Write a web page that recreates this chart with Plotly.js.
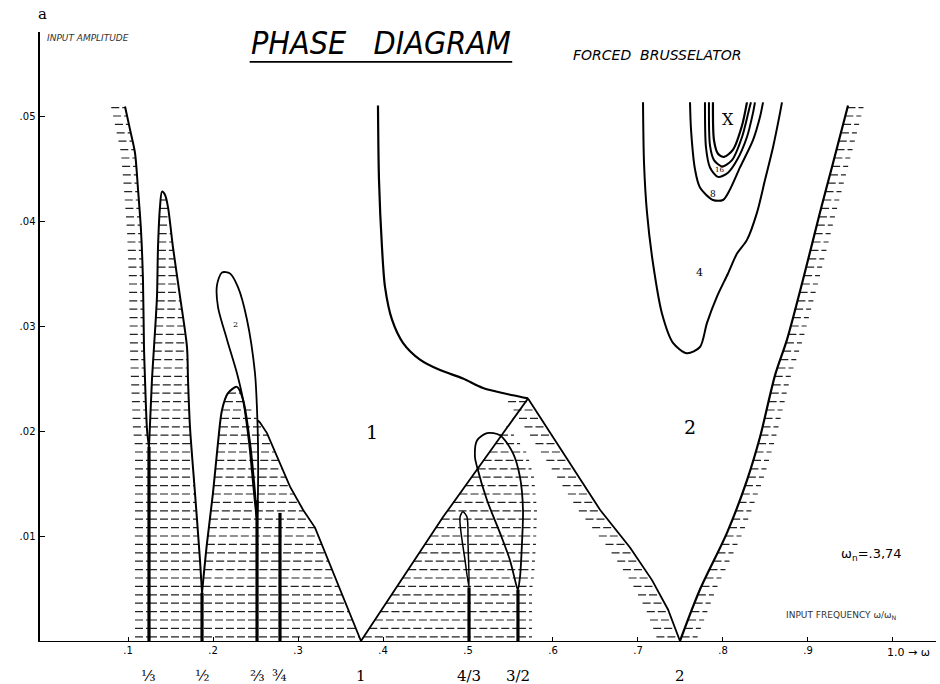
<!DOCTYPE html>
<html><head><meta charset="utf-8">
<script src="https://cdn.plot.ly/plotly-3.0.1.min.js"></script>
<style>html,body{margin:0;padding:0;background:#fff}#c{width:940px;height:684px}</style>
</head><body><div id="c"></div>
<script>
// ---- boundary curves (x = ω, y = a) ----
const A_x = [0.0965,0.1024,0.1082,0.1118,0.1153,0.1176,0.1188,0.1200,0.1224,0.1247];
const A_y = [0.0509,0.0487,0.0465,0.0430,0.0391,0.0344,0.0280,0.0249,0.0201,0.0185];
const B_x = [0.1247,0.1282,0.1306,0.1341,0.1353,0.1376,0.1400,0.1435,0.1471,0.1529,0.1612,0.1694,0.1706,0.1729,0.1788,0.1847,0.1871];
const B_y = [0.0185,0.0249,0.0280,0.0328,0.0375,0.0413,0.0428,0.0425,0.0413,0.0375,0.0328,0.0280,0.0249,0.0204,0.0141,0.0077,0.0046];
const H_x = [0.1871,0.1929,0.2000,0.2059,0.2106,0.2176,0.2282,0.2353,0.2435,0.2494,0.2518];
const H_y = [0.0046,0.0093,0.0141,0.0189,0.0220,0.0236,0.0242,0.0230,0.0189,0.0141,0.0115];
const L2_x = [0.2518,0.2482,0.2424,0.2353,0.2282,0.2165,0.2059,0.2047,0.2106,0.2200,0.2294,0.2400,0.2494,0.2518,0.2529,0.2529,0.2518];
const L2_y = [0.0115,0.0141,0.0189,0.0230,0.0255,0.0287,0.0318,0.0339,0.0351,0.0350,0.0337,0.0306,0.0255,0.0220,0.0189,0.0141,0.0115];
const D_x = [0.2529,0.2553,0.2635,0.2753,0.2906,0.3059,0.3200,0.3741];
const D_y = [0.0210,0.0208,0.0198,0.0175,0.0147,0.0125,0.0108,0];
const V1R_x = [0.3741,0.4706,0.5706];
const V1R_y = [0,0.0118,0.0231];
const E_x = [0.3941,0.3953,0.3988,0.4024,0.4106,0.4235,0.4435,0.4671,0.4941,0.5176,0.5529,0.5706];
const E_y = [0.0510,0.0439,0.0375,0.0337,0.0306,0.0284,0.0268,0.0258,0.0250,0.0241,0.0234,0.0231];
const V2L_x = [0.5706,0.6141,0.6553,0.6906,0.7165,0.7353,0.7494];
const V2L_y = [0.0231,0.0177,0.0125,0.0089,0.0058,0.0030,0];
const V2R_x = [0.7494,0.7729,0.8047,0.8282,0.8435,0.8612,0.8753,0.8941,0.9141,0.9294,0.9471];
const V2R_y = [0,0.0049,0.0103,0.0153,0.0194,0.0253,0.0287,0.0344,0.0408,0.0455,0.0510];
const L32_x = [0.5588,0.5576,0.5494,0.5376,0.5224,0.5106,0.5082,0.5106,0.5224,0.5376,0.5529,0.5612,0.5647,0.5635,0.5612,0.5588];
const L32_y = [0.0049,0.0051,0.0077,0.0103,0.0134,0.0166,0.0175,0.0191,0.0198,0.0196,0.0179,0.0156,0.0125,0.0093,0.0061,0.0049];
const T43_x = [0.5012,0.4965,0.4906,0.4941,0.4988,0.5000,0.5012];
const T43_y = [0.0051,0.0077,0.0118,0.0123,0.0118,0.0093,0.0051];
// contours inside region 2
const C4_x = [0.7059,0.7071,0.7106,0.7176,0.7282,0.7412,0.7576,0.7729,0.7812,0.7929,0.8059,0.8165,0.8282,0.8400,0.8494,0.8588,0.8671,0.8694];
const C4_y = [0.0513,0.0455,0.0408,0.0360,0.0312,0.0284,0.0274,0.0280,0.0303,0.0328,0.0350,0.0369,0.0382,0.0408,0.0439,0.0470,0.0503,0.0513];
const C8_x = [0.7612,0.7624,0.7671,0.7729,0.7882,0.8000,0.8082,0.8200,0.8353,0.8435,0.8471];
const C8_y = [0.0513,0.0487,0.0449,0.0432,0.0420,0.0420,0.0430,0.0451,0.0477,0.0499,0.0513];
const C16_x = [0.7788,0.7800,0.7847,0.7941,0.8059,0.8165,0.8282,0.8353,0.8376];
const C16_y = [0.0513,0.0470,0.0451,0.0442,0.0446,0.0458,0.0480,0.0503,0.0513];
const C32_x = [0.7835,0.7847,0.7894,0.7988,0.8106,0.8224,0.8306,0.8329];
const C32_y = [0.0513,0.0472,0.0458,0.0452,0.0458,0.0480,0.0506,0.0513];
const CX_x = [0.7882,0.7894,0.7941,0.8012,0.8118,0.8224,0.8282];
const CX_y = [0.0513,0.0477,0.0464,0.0461,0.0468,0.0491,0.0513];
// resonances
const resW = [0.1247,0.1871,0.2518,0.2788,0.3741,0.5012,0.5588,0.7494];
const resTop = [0.0185,0.0046,0.0134,0.0122,0,0.0051,0.0049,0];
const resLabels = ['⅓','½','⅔','¾','1','4/3','3/2','2'];
// ticks
const xTickVals = [0.1,0.2,0.3,0.4,0.5,0.6,0.7,0.8,0.9,1.0];
const xTickText = ['.1','.2','.3','.4','.5','.6','.7','.8','.9',''];
const yTickVals = [0.01,0.02,0.03,0.04,0.05];
const yTickText = ['.01','.02','.03','.04','.05'];
// region / contour labels
const regLabels = ['1','2'];
const regX = [0.3871,0.7612];
const regY = [0.0199,0.0204];
const cLabels = ['X','16','8','4','2'];
const cX = [0.8059,0.7953,0.7882,0.7729,0.2259];
const cY = [0.0497,0.0449,0.0426,0.0351,0.0301];

// ---- hatching built from the curves ----
const HW = 1/850; // one pixel in x data units
function band(cx, cy, side, w){
  return {x: cx.concat(cx.map(v=>v+side*w).reverse()), y: cy.concat(cy.slice().reverse())};
}
function scan(polys, step){
  const X=[],Y=[]; let ymax=0;
  polys.forEach(p=>{ymax=Math.max(ymax,...p.y);});
  for(let y=step*0.5;y<ymax;y+=step){
    polys.forEach(p=>{
      const xs=[]; const n=p.x.length;
      for(let i=0;i<n;i++){
        const j=(i+1)%n; const y1=p.y[i], y2=p.y[j];
        if((y1<=y&&y2>y)||(y2<=y&&y1>y)) xs.push(p.x[i]+(y-y1)/(y2-y1)*(p.x[j]-p.x[i]));
      }
      xs.sort((a,b)=>a-b);
      for(let k=0;k+1<xs.length;k+=2){ X.push(xs[k],xs[k+1],null); Y.push(y,y,null); }
    });
  }
  return {x:X,y:Y};
}
const apex = H_y.indexOf(Math.max(...H_y));
const lowPoly = {
  x: [resW[0]].concat(B_x, H_x.slice(0,apex+1), D_x),
  y: [0].concat(B_y, H_y.slice(0,apex+1), D_y)
};
const topL32 = L32_y.indexOf(Math.max(...L32_y));
const triPoly = {
  x: V1R_x.concat(L32_x.slice(topL32+1), [resW[6]]),
  y: V1R_y.concat(L32_y.slice(topL32+1), [0])
};
const polys = [
  band(A_x.concat([resW[0]]), A_y.concat([0]), -1, 14*HW),
  lowPoly,
  triPoly,
  band(L32_x.slice(topL32).concat([resW[6]]), L32_y.slice(topL32).concat([0]), 1, 14*HW),
  band(V2L_x, V2L_y, -1, 22*HW),
  band(V2R_x, V2R_y, 1, 16*HW)
];
const hatch = scan(polys, 0.0008);

const traces = [];
traces.push({x:hatch.x,y:hatch.y,mode:'lines',line:{color:'#222',width:1.2,dash:'8px,3px'},hoverinfo:'skip'});
function curve(x,y,w,smooth){
  traces.push({x:x,y:y,mode:'lines',line:{color:'#000',width:w||2,shape:smooth?'spline':'linear',smoothing:0.8},hoverinfo:'skip'});
}
curve(A_x,A_y,2,true);
curve(B_x,B_y,2,true);
curve(H_x,H_y,2,true);
curve(L2_x,L2_y,1.8,true);
curve(D_x,D_y,1.8,false);
curve(V1R_x,V1R_y,1.8,false);
curve(E_x,E_y,2.2,true);
curve(V2L_x,V2L_y,1.8,false);
curve(V2R_x,V2R_y,2.2,true);
curve(L32_x,L32_y,1.8,true);
curve(T43_x,T43_y,1.5,true);
curve(C4_x,C4_y,2,true);
curve(C8_x,C8_y,2,true);
curve(C16_x,C16_y,2,true);
curve(C32_x,C32_y,2,true);
curve(CX_x,CX_y,2.2,true);
// thick resonance lines
const rx=[], ry=[];
resW.forEach((w,i)=>{ if(resTop[i]>0){ rx.push(w,w,null); ry.push(0,resTop[i],null);} });
traces.push({x:rx,y:ry,mode:'lines',line:{color:'#000',width:3.2},hoverinfo:'skip'});

const ann = [];
ann.push({xref:'paper',yref:'paper',x:0.381,y:0.982,xanchor:'center',yanchor:'middle',text:'PHASE\u00a0\u00a0\u00a0DIAGRAM',showarrow:false,
  font:{family:'Liberation Sans Narrow, DejaVu Sans Condensed, sans-serif',size:32,style:'italic',color:'#000'}});
ann.push({xref:'paper',yref:'paper',x:0.689,y:0.962,xanchor:'center',yanchor:'middle',text:'FORCED\u00a0\u00a0BRUSSELATOR',showarrow:false,
  font:{family:'DejaVu Sans',size:14,style:'italic',color:'#000'}});
ann.push({xref:'paper',yref:'paper',x:0.006,y:0.99,xanchor:'left',yanchor:'middle',text:'INPUT AMPLITUDE',showarrow:false,
  font:{family:'DejaVu Sans',size:9,style:'italic',color:'#333'}});
ann.push({xref:'paper',yref:'paper',x:0.003,y:1.03,xanchor:'center',yanchor:'middle',text:'a',showarrow:false,
  font:{family:'DejaVu Serif',size:15,color:'#000'}});
regLabels.forEach((t,i)=>ann.push({x:regX[i],y:regY[i],text:t,showarrow:false,
  font:{family:'DejaVu Serif',size:19,color:'#000'}}));
const cSizes=[16,7,9,11,8];
cLabels.forEach((t,i)=>ann.push({x:cX[i],y:cY[i],text:t,showarrow:false,
  font:{family:'DejaVu Serif',size:cSizes[i],color:'#000'}}));
resLabels.forEach((t,i)=>ann.push({x:resW[i],xref:'x',yref:'paper',y:0,xanchor:'center',yanchor:'middle',yshift:-35,text:t,showarrow:false,
  font:{family:'DejaVu Serif',size:15,color:'#000'}}));
ann.push({x:1.0,xref:'x',yref:'paper',y:0,yanchor:'middle',xanchor:'left',xshift:-8,yshift:-11,text:'1.0 → ω',showarrow:false,
  font:{family:'DejaVu Sans',size:11,color:'#000'}});
ann.push({x:0.975,y:0.0082,xanchor:'center',yanchor:'middle',text:'ω<sub>n</sub>=.3,74',showarrow:false,
  font:{family:'DejaVu Sans',size:13,color:'#000'}});
ann.push({x:0.94,y:0.0024,xanchor:'center',yanchor:'middle',text:'INPUT FREQUENCY ω/ω<sub>N</sub>',showarrow:false,
  font:{family:'DejaVu Sans',size:9,color:'#333'}});

const layout = {
  width:940,height:684,margin:{l:40,r:4,t:32,b:43},
  paper_bgcolor:'#fff',plot_bgcolor:'#fff',showlegend:false,
  xaxis:{range:[-0.00353,1.0506],showgrid:false,zeroline:false,showline:true,linecolor:'#000',linewidth:1.2,
    tickvals:xTickVals,ticktext:xTickText,ticks:'inside',ticklen:4,tickcolor:'#000',
    tickfont:{family:'DejaVu Sans',size:10,color:'#000'}},
  yaxis:{range:[0,0.058],showgrid:false,zeroline:false,showline:true,linecolor:'#000',linewidth:2.5,
    tickvals:yTickVals,ticktext:yTickText,ticks:'inside',ticklen:5,tickcolor:'#000',
    tickfont:{family:'DejaVu Sans',size:10,color:'#000'}},
  annotations:ann,
  shapes:[{type:'line',xref:'paper',yref:'paper',x0:0.234,x1:0.527,y0:0.951,y1:0.951,line:{color:'#000',width:1.8}}]
};
Plotly.newPlot('c',traces,layout,{staticPlot:true});
</script></body></html>
